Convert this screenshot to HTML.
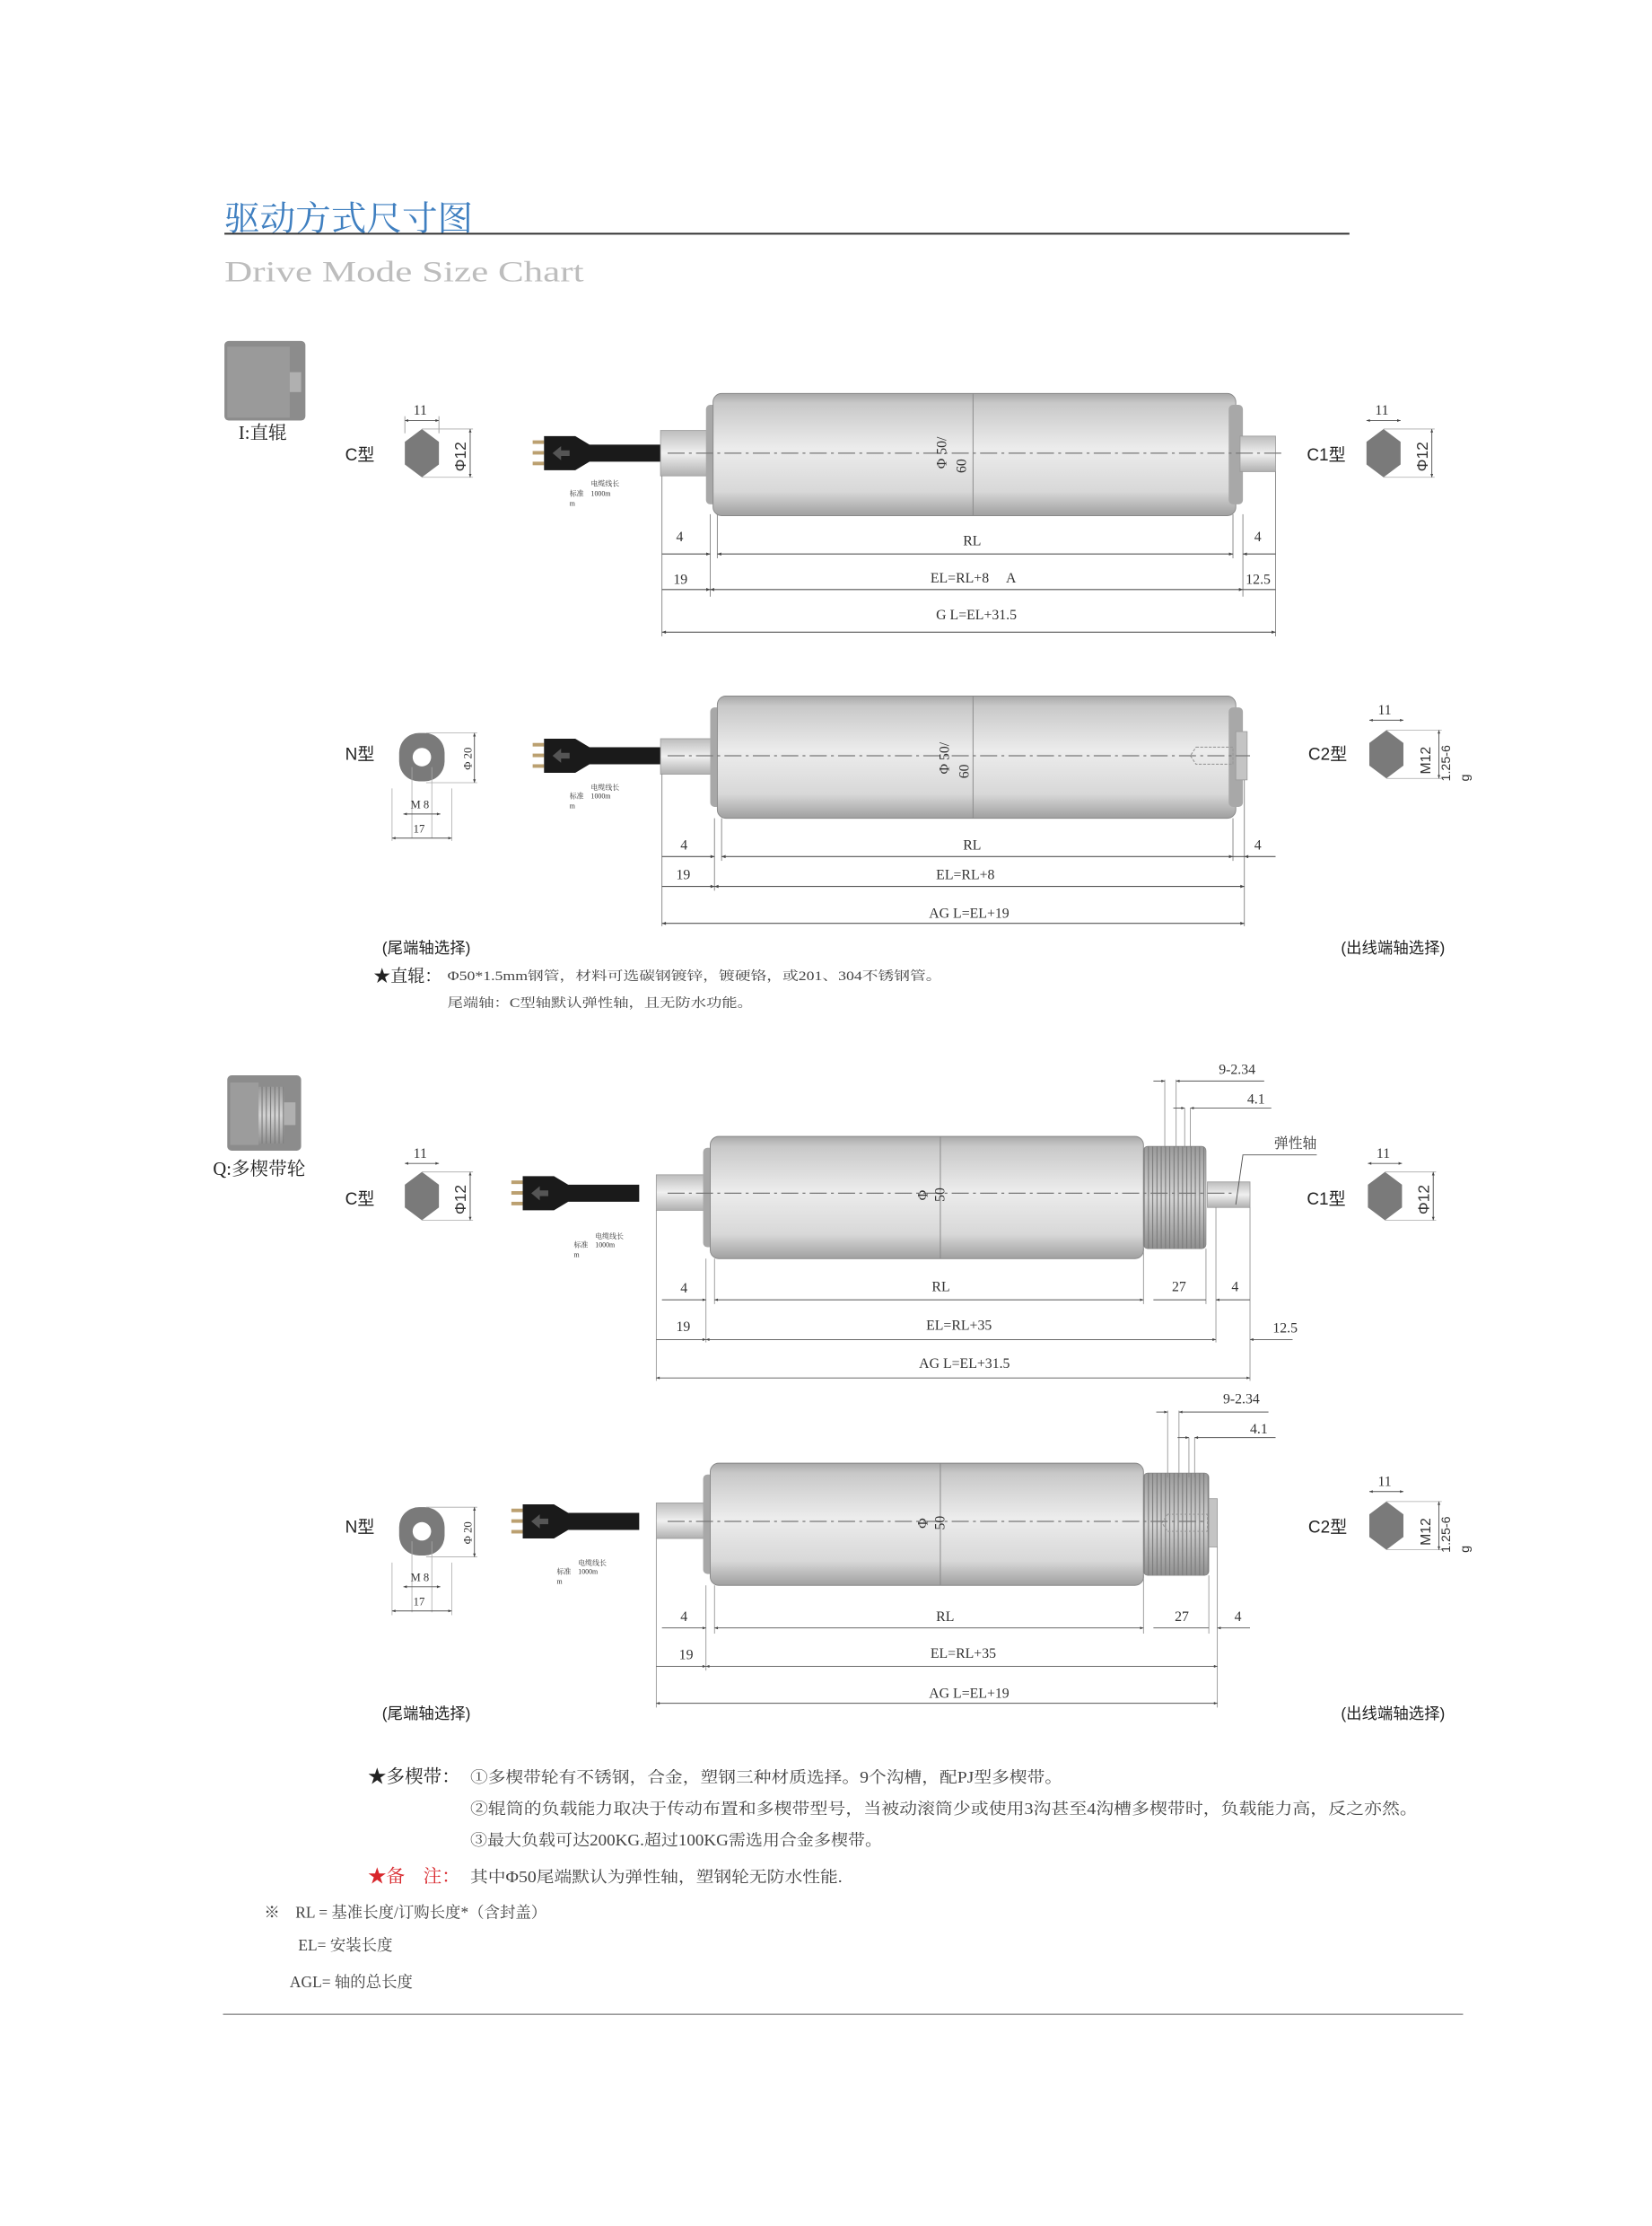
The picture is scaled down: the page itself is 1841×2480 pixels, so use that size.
<!DOCTYPE html>
<html><head><meta charset="utf-8"><style>
html,body{margin:0;padding:0;background:#fff;}
svg{display:block;}
.s{font-family:"Liberation Serif","Noto Serif CJK SC",serif;}
.a{font-family:"Liberation Sans","Noto Sans CJK SC",sans-serif;}
</style></head><body>
<svg width="1841" height="2480" viewBox="0 0 1163 1567" preserveAspectRatio="none" xmlns="http://www.w3.org/2000/svg">
<defs>
<linearGradient id="tube" x1="0" y1="0" x2="0" y2="1">
<stop offset="0" stop-color="#a8a8a8"/><stop offset="0.08" stop-color="#c8c8c8"/><stop offset="0.45" stop-color="#ececec"/><stop offset="0.8" stop-color="#d8d8d8"/><stop offset="1" stop-color="#a0a0a0"/></linearGradient>
<linearGradient id="shaft" x1="0" y1="0" x2="0" y2="1">
<stop offset="0" stop-color="#bdbdbd"/><stop offset="0.5" stop-color="#f0f0f0"/><stop offset="1" stop-color="#b0b0b0"/></linearGradient>
<linearGradient id="thr" x1="0" y1="0" x2="0" y2="1">
<stop offset="0" stop-color="#9a9a9a"/><stop offset="0.5" stop-color="#d4d4d4"/><stop offset="1" stop-color="#909090"/></linearGradient>
<pattern id="thread" width="3" height="6" patternUnits="userSpaceOnUse"><line x1="1.5" y1="0" x2="1.5" y2="6" stroke="#7a7a7a" stroke-width="0.7"/></pattern>
<marker id="ar" viewBox="0 0 10 10" refX="10" refY="5" markerWidth="6" markerHeight="4" orient="auto-start-reverse"><path d="M0,1 L10,5 L0,9z" fill="#444"/></marker>
<g id="cable">
<rect x="0" y="-9" width="8" height="2.5" fill="#bba070"/><rect x="0" y="-1.5" width="8" height="2.5" fill="#bba070"/><rect x="0" y="6" width="8" height="2.5" fill="#bba070"/>
<path d="M8,-12 L30,-12 L40,-6 L90,-6 L90,6 L40,6 L30,12 L8,12z" fill="#1a1a1a"/>
<path d="M14,0 L20,-5 L20,-2 L26,-2 L26,2 L20,2 L20,5z" fill="#555"/>
</g>
<g id="hex"><polygon points="0,-17 12,-8 12,8 0,17 -12,8 -12,-8" fill="#7a7a7a"/></g>
</defs>

<text x="158" y="162" class="s" font-size="24" fill="#3f7fc0" textLength="175" lengthAdjust="spacingAndGlyphs">驱动方式尺寸图</text>
<line x1="158" y1="164.5" x2="950" y2="164.5" stroke="#333" stroke-width="1.3"/>
<text x="158" y="198" class="s" font-size="21" fill="#bdbdbd" textLength="253" lengthAdjust="spacingAndGlyphs">Drive Mode Size Chart</text>

<rect x="158" y="240" width="57" height="56" rx="3" fill="#8c8c8c"/>
<rect x="160" y="244" width="44" height="50" fill="#9a9a9a"/>
<rect x="204" y="262" width="8" height="14" fill="#b0b0b0"/>
<text x="168" y="309" class="s" font-size="13" fill="#222">I:直辊</text>

<g font-size="10" class="s" fill="#333">
<use href="#cable" x="375" y="319"/>
<rect x="465" y="303" width="36" height="32" fill="url(#shaft)" stroke="#999" stroke-width="0.5"/>
<rect x="497" y="285" width="8" height="70" rx="3" fill="#a8a8a8"/>
<rect x="502" y="277" width="368" height="86" rx="6" fill="url(#tube)" stroke="#888" stroke-width="0.6"/>
<rect x="865" y="285" width="10" height="70" rx="3" fill="#a8a8a8"/>
<rect x="873" y="307" width="25" height="25" fill="url(#shaft)" stroke="#999" stroke-width="0.5"/>
<line x1="685" y1="277" x2="685" y2="363" stroke="#888" stroke-width="0.6"/>
<line x1="470" y1="319" x2="905" y2="319" stroke="#777" stroke-width="0.8" stroke-dasharray="12,3,2,3"/>
<text transform="translate(666,330) rotate(-90)" font-size="10">Φ 50/</text>
<text transform="translate(680,333) rotate(-90)" font-size="10">60</text>
<text x="416" y="342" font-size="5">电缆线长</text><text x="401" y="349" font-size="5">标准　1000m</text><text x="401" y="356" font-size="5">m</text>
<g stroke="#888" stroke-width="0.6">
<line x1="466" y1="335" x2="466" y2="448"/><line x1="500" y1="362" x2="500" y2="420"/><line x1="505" y1="362" x2="505" y2="393"/>
<line x1="868" y1="362" x2="868" y2="393"/><line x1="875" y1="362" x2="875" y2="420"/><line x1="898" y1="332" x2="898" y2="448"/>
</g>
<g stroke="#555" stroke-width="0.7">
<line x1="505" y1="390" x2="868" y2="390" marker-start="url(#ar)" marker-end="url(#ar)"/>
<line x1="466" y1="390" x2="500" y2="390" marker-end="url(#ar)"/><line x1="875" y1="390" x2="898" y2="390" marker-start="url(#ar)"/>
<line x1="500" y1="415" x2="875" y2="415" marker-start="url(#ar)" marker-end="url(#ar)"/>
<line x1="466" y1="415" x2="500" y2="415" marker-end="url(#ar)"/><line x1="875" y1="415" x2="898" y2="415"/>
<line x1="466" y1="445" x2="898" y2="445" marker-start="url(#ar)" marker-end="url(#ar)"/>
</g>
<text x="476" y="381">4</text><text x="678" y="384">RL</text><text x="883" y="381">4</text>
<text x="474" y="411">19</text><text x="655" y="410">EL=RL+8　 A</text><text x="877" y="411">12.5</text>
<text x="659" y="436">G L=EL+31.5</text>
</g>

<g class="s" font-size="10" fill="#333">
<text x="243" y="324" class="a" font-size="12" fill="#222">C型</text>
<use href="#hex" x="297" y="319"/>
<text x="291" y="292">11</text>
<line x1="285" y1="296" x2="309" y2="296" stroke="#555" stroke-width="0.6" marker-start="url(#ar)" marker-end="url(#ar)"/>
<line x1="285" y1="293" x2="285" y2="305" stroke="#888" stroke-width="0.5"/><line x1="309" y1="293" x2="309" y2="305" stroke="#888" stroke-width="0.5"/>
<line x1="297" y1="302" x2="333" y2="302" stroke="#aaa" stroke-width="0.5"/><line x1="297" y1="336" x2="333" y2="336" stroke="#aaa" stroke-width="0.5"/>
<line x1="331" y1="302" x2="331" y2="336" stroke="#555" stroke-width="0.6" marker-start="url(#ar)" marker-end="url(#ar)"/>
<text transform="translate(328,332) rotate(-90)" font-size="11" class="a">Φ12</text>

<text x="920" y="324" class="a" font-size="12" fill="#222">C1型</text>
<use href="#hex" x="974" y="319"/>
<text x="968" y="292">11</text>
<line x1="962" y1="296" x2="986" y2="296" stroke="#555" stroke-width="0.6" marker-start="url(#ar)" marker-end="url(#ar)"/>
<line x1="974" y1="302" x2="1010" y2="302" stroke="#aaa" stroke-width="0.5"/><line x1="974" y1="336" x2="1010" y2="336" stroke="#aaa" stroke-width="0.5"/>
<line x1="1008" y1="302" x2="1008" y2="336" stroke="#555" stroke-width="0.6" marker-start="url(#ar)" marker-end="url(#ar)"/>
<text transform="translate(1005,332) rotate(-90)" font-size="11" class="a">Φ12</text>
</g>

<g font-size="10" class="s" fill="#333">
<use href="#cable" x="375" y="532"/>
<rect x="465" y="520" width="38" height="25" fill="url(#shaft)" stroke="#999" stroke-width="0.5"/>
<rect x="500" y="498" width="8" height="70" rx="3" fill="#a8a8a8"/>
<rect x="505" y="490" width="365" height="86" rx="6" fill="url(#tube)" stroke="#888" stroke-width="0.6"/>
<rect x="865" y="498" width="10" height="70" rx="3" fill="#a8a8a8"/>
<rect x="870" y="515" width="8" height="34" fill="#c4c4c4" stroke="#999" stroke-width="0.5"/>
<path d="M842,526 L868,526 L868,538 L842,538 L838,532z" fill="none" stroke="#999" stroke-width="0.7" stroke-dasharray="2,1"/>
<line x1="685" y1="490" x2="685" y2="576" stroke="#888" stroke-width="0.6"/>
<line x1="470" y1="532" x2="880" y2="532" stroke="#777" stroke-width="0.8" stroke-dasharray="12,3,2,3"/>
<text transform="translate(668,545) rotate(-90)" font-size="10">Φ 50/</text>
<text transform="translate(682,548) rotate(-90)" font-size="10">60</text>
<text x="416" y="556" font-size="5">电缆线长</text><text x="401" y="562" font-size="5">标准　1000m</text><text x="401" y="569" font-size="5">m</text>
<g stroke="#888" stroke-width="0.6">
<line x1="466" y1="545" x2="466" y2="652"/><line x1="503" y1="576" x2="503" y2="627"/><line x1="508" y1="576" x2="508" y2="606"/>
<line x1="868" y1="576" x2="868" y2="606"/><line x1="876" y1="549" x2="876" y2="652"/>
</g>
<g stroke="#555" stroke-width="0.7">
<line x1="508" y1="603" x2="868" y2="603" marker-start="url(#ar)" marker-end="url(#ar)"/>
<line x1="466" y1="603" x2="503" y2="603" marker-end="url(#ar)"/><line x1="868" y1="603" x2="876" y2="603"/><line x1="876" y1="603" x2="898" y2="603" marker-start="url(#ar)"/>
<line x1="503" y1="624" x2="876" y2="624" marker-start="url(#ar)" marker-end="url(#ar)"/>
<line x1="466" y1="624" x2="503" y2="624" marker-end="url(#ar)"/>
<line x1="466" y1="650" x2="876" y2="650" marker-start="url(#ar)" marker-end="url(#ar)"/>
</g>
<text x="479" y="598">4</text><text x="678" y="598">RL</text><text x="883" y="598">4</text>
<text x="476" y="619">19</text><text x="659" y="619">EL=RL+8</text>
<text x="654" y="646">AG L=EL+19</text>
</g>

<g class="s" font-size="8" fill="#333">
<text x="243" y="535" class="a" font-size="12" fill="#222">N型</text>
<rect x="281" y="516" width="32" height="34" rx="14" fill="#7a7a7a"/>
<circle cx="297" cy="533" r="6.5" fill="#fff"/>
<line x1="300" y1="516" x2="336" y2="516" stroke="#aaa" stroke-width="0.5"/><line x1="300" y1="551" x2="336" y2="551" stroke="#aaa" stroke-width="0.5"/>
<line x1="334" y1="516" x2="334" y2="551" stroke="#555" stroke-width="0.6" marker-start="url(#ar)" marker-end="url(#ar)"/>
<text transform="translate(332,542) rotate(-90)">Φ 20</text>
<line x1="290" y1="540" x2="290" y2="590" stroke="#aaa" stroke-width="0.5"/><line x1="304" y1="540" x2="304" y2="590" stroke="#aaa" stroke-width="0.5"/>
<line x1="276" y1="555" x2="276" y2="592" stroke="#aaa" stroke-width="0.5"/><line x1="318" y1="555" x2="318" y2="592" stroke="#aaa" stroke-width="0.5"/>
<text x="289" y="569">M 8</text>
<line x1="284" y1="573" x2="310" y2="573" stroke="#555" stroke-width="0.6" marker-start="url(#ar)" marker-end="url(#ar)"/>
<text x="291" y="586">17</text>
<line x1="276" y1="590" x2="318" y2="590" stroke="#555" stroke-width="0.6" marker-start="url(#ar)" marker-end="url(#ar)"/>

<text x="921" y="535" class="a" font-size="12" fill="#222">C2型</text>
<use href="#hex" x="976" y="531"/>
<text x="970" y="503" font-size="10">11</text>
<line x1="964" y1="507" x2="988" y2="507" stroke="#555" stroke-width="0.6" marker-start="url(#ar)" marker-end="url(#ar)"/>
<line x1="976" y1="514" x2="1015" y2="514" stroke="#aaa" stroke-width="0.5"/><line x1="976" y1="548" x2="1015" y2="548" stroke="#aaa" stroke-width="0.5"/>
<line x1="1013" y1="514" x2="1013" y2="548" stroke="#555" stroke-width="0.6" marker-start="url(#ar)" marker-end="url(#ar)"/>
<text transform="translate(1007,545) rotate(-90)" font-size="10" class="a">M12</text>
<text transform="translate(1021,550) rotate(-90)" font-size="9" class="a">1.25-6</text>
<text transform="translate(1034,550) rotate(-90)" font-size="9" class="a">g</text>
</g>

<text x="269" y="671" class="a" font-size="11" fill="#222">(尾端轴选择)</text>
<text x="944" y="671" class="a" font-size="11" fill="#222">(出线端轴选择)</text>
<text x="263" y="691" class="s" font-size="12" fill="#222">★直辊：</text>
<text x="315" y="690" class="s" font-size="9" fill="#444" textLength="348" lengthAdjust="spacingAndGlyphs">Φ50*1.5mm钢管，材料可选碳钢镀锌，镀硬铬，或201、304不锈钢管。</text>
<text x="315" y="709" class="s" font-size="9" fill="#444" textLength="215" lengthAdjust="spacingAndGlyphs">尾端轴：C型轴默认弹性轴，且无防水功能。</text>

<rect x="160" y="757" width="52" height="53" rx="3" fill="#8c8c8c"/>
<rect x="162" y="762" width="20" height="44" fill="#9c9c9c"/>
<rect x="182" y="765" width="18" height="40" fill="url(#thr)"/>
<rect x="182" y="765" width="18" height="40" fill="url(#thread)"/>
<rect x="200" y="776" width="8" height="16" fill="#b0b0b0"/>
<text x="150" y="827" class="s" font-size="13" fill="#222">Q:多楔带轮</text>

<g font-size="10" class="s" fill="#333">
<use href="#cable" x="360" y="840"/>
<rect x="462" y="827" width="36" height="25" fill="url(#shaft)" stroke="#999" stroke-width="0.5"/>
<rect x="495" y="808" width="8" height="70" rx="3" fill="#a8a8a8"/>
<rect x="500" y="800" width="305" height="86" rx="6" fill="url(#tube)" stroke="#888" stroke-width="0.6"/>
<rect x="805" y="807" width="44" height="72" rx="3" fill="url(#thr)" stroke="#888" stroke-width="0.5"/>
<rect x="805" y="807" width="44" height="72" rx="3" fill="url(#thread)"/>
<rect x="850" y="832" width="30" height="18" fill="url(#shaft)" stroke="#999" stroke-width="0.5"/>
<line x1="662" y1="800" x2="662" y2="886" stroke="#888" stroke-width="0.6"/>
<line x1="470" y1="840" x2="870" y2="840" stroke="#777" stroke-width="0.8" stroke-dasharray="12,3,2,3"/>
<text transform="translate(653,845) rotate(-90)" font-size="10">Φ</text>
<text transform="translate(665,846) rotate(-90)" font-size="10">50</text>
<text x="419" y="872" font-size="5">电缆线长</text><text x="404" y="878" font-size="5">标准　1000m</text><text x="404" y="885" font-size="5">m</text>
<text x="897" y="808" font-size="10">弹性轴</text>
<path d="M870,848 L875,813 L927,813" fill="none" stroke="#555" stroke-width="0.6"/>
<g stroke="#888" stroke-width="0.5">
<line x1="820" y1="760" x2="820" y2="808"/><line x1="828" y1="760" x2="828" y2="808"/><line x1="834" y1="780" x2="834" y2="808"/><line x1="838" y1="780" x2="838" y2="808"/>
<line x1="462" y1="852" x2="462" y2="972"/><line x1="497" y1="886" x2="497" y2="945"/><line x1="503" y1="886" x2="503" y2="918"/>
<line x1="805" y1="879" x2="805" y2="918"/><line x1="849" y1="879" x2="849" y2="918"/><line x1="856" y1="850" x2="856" y2="945"/><line x1="880" y1="850" x2="880" y2="972"/>
</g>
<g stroke="#555" stroke-width="0.6">
<line x1="812" y1="761" x2="820" y2="761" marker-end="url(#ar)"/><line x1="828" y1="761" x2="890" y2="761" marker-start="url(#ar)"/>
<line x1="826" y1="780" x2="834" y2="780" marker-end="url(#ar)"/><line x1="838" y1="780" x2="895" y2="780" marker-start="url(#ar)"/>
<line x1="503" y1="915" x2="805" y2="915" marker-start="url(#ar)" marker-end="url(#ar)"/>
<line x1="466" y1="915" x2="497" y2="915" marker-end="url(#ar)"/>
<line x1="812" y1="915" x2="849" y2="915"/><line x1="856" y1="915" x2="880" y2="915" marker-start="url(#ar)"/>
<line x1="497" y1="943" x2="856" y2="943" marker-start="url(#ar)" marker-end="url(#ar)"/>
<line x1="462" y1="943" x2="497" y2="943" marker-end="url(#ar)"/><line x1="880" y1="943" x2="910" y2="943" marker-start="url(#ar)"/>
<line x1="462" y1="970" x2="880" y2="970" marker-start="url(#ar)" marker-end="url(#ar)"/>
</g>
<text x="858" y="756">9-2.34</text><text x="878" y="777">4.1</text>
<text x="479" y="910">4</text><text x="656" y="909">RL</text><text x="825" y="909">27</text><text x="867" y="909">4</text>
<text x="476" y="937">19</text><text x="652" y="936">EL=RL+35</text><text x="896" y="938">12.5</text>
<text x="647" y="963">AG L=EL+31.5</text>
</g>

<g class="s" font-size="10" fill="#333">
<text x="243" y="848" class="a" font-size="12" fill="#222">C型</text>
<use href="#hex" x="297" y="842"/>
<text x="291" y="815">11</text>
<line x1="285" y1="819" x2="309" y2="819" stroke="#555" stroke-width="0.6" marker-start="url(#ar)" marker-end="url(#ar)"/>
<line x1="297" y1="825" x2="333" y2="825" stroke="#aaa" stroke-width="0.5"/><line x1="297" y1="859" x2="333" y2="859" stroke="#aaa" stroke-width="0.5"/>
<line x1="331" y1="825" x2="331" y2="859" stroke="#555" stroke-width="0.6" marker-start="url(#ar)" marker-end="url(#ar)"/>
<text transform="translate(328,855) rotate(-90)" font-size="11" class="a">Φ12</text>

<text x="920" y="848" class="a" font-size="12" fill="#222">C1型</text>
<use href="#hex" x="975" y="842"/>
<text x="969" y="815">11</text>
<line x1="963" y1="819" x2="987" y2="819" stroke="#555" stroke-width="0.6" marker-start="url(#ar)" marker-end="url(#ar)"/>
<line x1="975" y1="825" x2="1011" y2="825" stroke="#aaa" stroke-width="0.5"/><line x1="975" y1="859" x2="1011" y2="859" stroke="#aaa" stroke-width="0.5"/>
<line x1="1009" y1="825" x2="1009" y2="859" stroke="#555" stroke-width="0.6" marker-start="url(#ar)" marker-end="url(#ar)"/>
<text transform="translate(1006,855) rotate(-90)" font-size="11" class="a">Φ12</text>
</g>

<g font-size="10" class="s" fill="#333">
<use href="#cable" x="360" y="1071"/>
<rect x="462" y="1058" width="36" height="25" fill="url(#shaft)" stroke="#999" stroke-width="0.5"/>
<rect x="495" y="1038" width="8" height="70" rx="3" fill="#a8a8a8"/>
<rect x="500" y="1030" width="305" height="86" rx="6" fill="url(#tube)" stroke="#888" stroke-width="0.6"/>
<rect x="805" y="1037" width="46" height="72" rx="3" fill="url(#thr)" stroke="#888" stroke-width="0.5"/>
<rect x="805" y="1037" width="46" height="72" rx="3" fill="url(#thread)"/>
<rect x="851" y="1055" width="6" height="34" fill="#c4c4c4" stroke="#999" stroke-width="0.5"/>
<path d="M822,1066 L850,1066 L850,1078 L822,1078 L818,1072z" fill="none" stroke="#999" stroke-width="0.7" stroke-dasharray="2,1"/>
<line x1="662" y1="1030" x2="662" y2="1116" stroke="#888" stroke-width="0.6"/>
<line x1="470" y1="1071" x2="850" y2="1071" stroke="#777" stroke-width="0.8" stroke-dasharray="12,3,2,3"/>
<text transform="translate(653,1076) rotate(-90)" font-size="10">Φ</text>
<text transform="translate(665,1077) rotate(-90)" font-size="10">50</text>
<text x="407" y="1102" font-size="5">电缆线长</text><text x="392" y="1108" font-size="5">标准　1000m</text><text x="392" y="1115" font-size="5">m</text>
<g stroke="#888" stroke-width="0.5">
<line x1="822" y1="993" x2="822" y2="1040"/><line x1="830" y1="993" x2="830" y2="1040"/><line x1="837" y1="1012" x2="837" y2="1040"/><line x1="841" y1="1012" x2="841" y2="1040"/>
<line x1="462" y1="1083" x2="462" y2="1202"/><line x1="497" y1="1116" x2="497" y2="1176"/><line x1="503" y1="1116" x2="503" y2="1150"/>
<line x1="805" y1="1109" x2="805" y2="1150"/><line x1="851" y1="1109" x2="851" y2="1150"/><line x1="857" y1="1089" x2="857" y2="1202"/>
</g>
<g stroke="#555" stroke-width="0.6">
<line x1="814" y1="994" x2="822" y2="994" marker-end="url(#ar)"/><line x1="830" y1="994" x2="893" y2="994" marker-start="url(#ar)"/>
<line x1="829" y1="1012" x2="837" y2="1012" marker-end="url(#ar)"/><line x1="841" y1="1012" x2="898" y2="1012" marker-start="url(#ar)"/>
<line x1="503" y1="1146" x2="805" y2="1146" marker-start="url(#ar)" marker-end="url(#ar)"/>
<line x1="466" y1="1146" x2="497" y2="1146" marker-end="url(#ar)"/>
<line x1="812" y1="1146" x2="851" y2="1146"/><line x1="857" y1="1146" x2="880" y2="1146" marker-start="url(#ar)"/>
<line x1="497" y1="1173" x2="857" y2="1173" marker-start="url(#ar)" marker-end="url(#ar)"/>
<line x1="462" y1="1173" x2="497" y2="1173" marker-end="url(#ar)"/>
<line x1="462" y1="1199" x2="857" y2="1199" marker-start="url(#ar)" marker-end="url(#ar)"/>
</g>
<text x="861" y="988">9-2.34</text><text x="880" y="1009">4.1</text>
<text x="479" y="1141">4</text><text x="659" y="1141">RL</text><text x="827" y="1141">27</text><text x="869" y="1141">4</text>
<text x="478" y="1168">19</text><text x="655" y="1167">EL=RL+35</text>
<text x="654" y="1195">AG L=EL+19</text>
</g>

<g class="s" font-size="8" fill="#333">
<text x="243" y="1079" class="a" font-size="12" fill="#222">N型</text>
<rect x="281" y="1061" width="32" height="34" rx="14" fill="#7a7a7a"/>
<circle cx="297" cy="1078" r="6.5" fill="#fff"/>
<line x1="300" y1="1061" x2="336" y2="1061" stroke="#aaa" stroke-width="0.5"/><line x1="300" y1="1096" x2="336" y2="1096" stroke="#aaa" stroke-width="0.5"/>
<line x1="334" y1="1061" x2="334" y2="1096" stroke="#555" stroke-width="0.6" marker-start="url(#ar)" marker-end="url(#ar)"/>
<text transform="translate(332,1087) rotate(-90)">Φ 20</text>
<line x1="290" y1="1085" x2="290" y2="1135" stroke="#aaa" stroke-width="0.5"/><line x1="304" y1="1085" x2="304" y2="1135" stroke="#aaa" stroke-width="0.5"/>
<line x1="276" y1="1100" x2="276" y2="1137" stroke="#aaa" stroke-width="0.5"/><line x1="318" y1="1100" x2="318" y2="1137" stroke="#aaa" stroke-width="0.5"/>
<text x="289" y="1113">M 8</text>
<line x1="284" y1="1117" x2="310" y2="1117" stroke="#555" stroke-width="0.6" marker-start="url(#ar)" marker-end="url(#ar)"/>
<text x="291" y="1130">17</text>
<line x1="276" y1="1134" x2="318" y2="1134" stroke="#555" stroke-width="0.6" marker-start="url(#ar)" marker-end="url(#ar)"/>

<text x="921" y="1079" class="a" font-size="12" fill="#222">C2型</text>
<use href="#hex" x="976" y="1074"/>
<text x="970" y="1046" font-size="10">11</text>
<line x1="964" y1="1050" x2="988" y2="1050" stroke="#555" stroke-width="0.6" marker-start="url(#ar)" marker-end="url(#ar)"/>
<line x1="976" y1="1057" x2="1015" y2="1057" stroke="#aaa" stroke-width="0.5"/><line x1="976" y1="1091" x2="1015" y2="1091" stroke="#aaa" stroke-width="0.5"/>
<line x1="1013" y1="1057" x2="1013" y2="1091" stroke="#555" stroke-width="0.6" marker-start="url(#ar)" marker-end="url(#ar)"/>
<text transform="translate(1007,1088) rotate(-90)" font-size="10" class="a">M12</text>
<text transform="translate(1021,1093) rotate(-90)" font-size="9" class="a">1.25-6</text>
<text transform="translate(1034,1093) rotate(-90)" font-size="9" class="a">g</text>
</g>

<text x="269" y="1210" class="a" font-size="11" fill="#222">(尾端轴选择)</text>
<text x="944" y="1210" class="a" font-size="11" fill="#222">(出线端轴选择)</text>

<g class="s" fill="#444">
<text x="259" y="1255" font-size="13" fill="#222">★多楔带：</text>
<text x="331" y="1255" font-size="11" textLength="417" lengthAdjust="spacingAndGlyphs">①多楔带轮有不锈钢，合金，塑钢三种材质选择。9个沟槽，配PJ型多楔带。</text>
<text x="331" y="1277" font-size="11" textLength="667" lengthAdjust="spacingAndGlyphs">②辊筒的负载能力取决于传动布置和多楔带型号，当被动滚筒少或使用3沟甚至4沟槽多楔带时，负载能力高，反之亦然。</text>
<text x="331" y="1299" font-size="11" textLength="290" lengthAdjust="spacingAndGlyphs">③最大负载可达200KG.超过100KG需选用合金多楔带。</text>
<text x="259" y="1325" font-size="13" fill="#d8262b">★备　注：</text>
<text x="331" y="1325" font-size="11" textLength="262" lengthAdjust="spacingAndGlyphs">其中Φ50尾端默认为弹性轴，塑钢轮无防水性能.</text>
<text x="186" y="1350" font-size="11">※　RL = 基准长度/订购长度*（含封盖）</text>
<text x="210" y="1373" font-size="11">EL= 安装长度</text>
<text x="204" y="1399" font-size="11">AGL= 轴的总长度</text>
</g>
<line x1="157" y1="1418" x2="1030" y2="1418" stroke="#999" stroke-width="1"/>
</svg>
</body></html>
